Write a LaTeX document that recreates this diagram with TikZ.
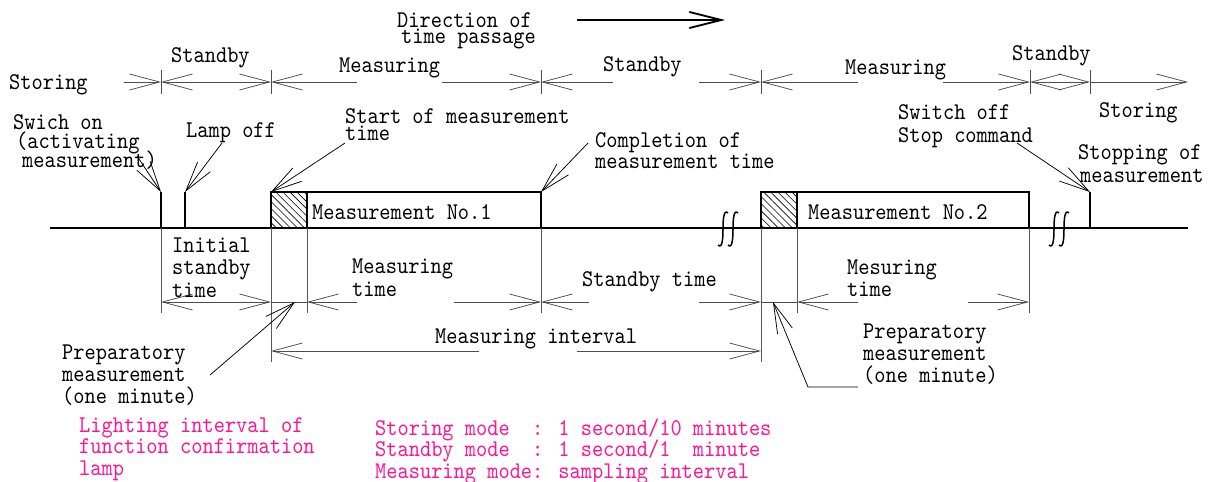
\documentclass[tikz,border=0pt]{standalone}
\usepackage{fontspec}
\usetikzlibrary{arrows.meta,patterns.meta}
\newfontfamily\mono{lmmono10-regular.otf}[FakeStretch=0.89]
\definecolor{labelpink}{RGB}{255,20,147}
% multi-line label: first argument is the line pitch in pt
\newcommand\mstack[2]{\vtop{\baselineskip=#1pt\lineskiplimit=-100pt\lineskip=0pt\relax#2}}
\newcommand\lnrow[1]{\hbox{#1}}
% break mark on the time axis
\newcommand\brkmark[1]{\draw[brk] ({#1+5},213) .. controls ({#1+1},209) and (#1,218) .. (#1,229) .. controls (#1,240) and ({#1-1},249) .. ({#1-5},245);}

\begin{document}
\begin{tikzpicture}[x=1pt,y=-1pt,
  txt/.style={anchor=base west,inner sep=0pt,font=\mono\fontsize{24}{24}\selectfont},
  note/.style={txt,text=labelpink},
  bb/.tip={Straight Barb[length=30pt,width=16pt]},
  dim/.style={draw=black!70,line width=0.75pt},
  ext/.style={draw=black!65,line width=0.75pt},
  lead/.style={draw=black,line width=0.75pt,-bb},
  sig/.style={draw=black,line width=1.8pt},
  brk/.style={draw=black,line width=1.5pt},
]
\useasboundingbox (0,0) rectangle (1211,482);

% ---- direction of time
\node[txt] (dir) at (397,27) {\mstack{16}{\lnrow{Direction of}\lnrow{\kern4pt time passage}}};
\coordinate (ta) at (577,20);
\coordinate (tb) at (725,20);
\draw[line width=1.8pt,-{Straight Barb[length=32pt,width=16pt]}] (ta) -- (tb);

% ---- operating modes
\node[txt] (s1) at (9,89) {Storing};
\node[txt] (sb1) at (171,62) {Standby};
\node[txt] (ms1) at (339,72) {Measuring};
\node[txt] (sb2) at (603,71) {Standby};
\node[txt] (ms2) at (845,74) {Measuring};
\node[txt] (sb3) at (1012,60) {Standby};
\node[txt] (s2) at (1099,117) {Storing};

\foreach \x in {161,271,541,761,1030,1090} \draw[dim] (\x,70) -- (\x,94);
\draw[dim,-bb] (124,82) -- (161,82);
\draw[dim,bb-bb] (161,82) -- (271,82);
\draw[dim,bb-] (271,82) -- (357,82);
\draw[dim,-bb] (442,82) -- (541,82);
\draw[dim,bb-] (541,82) -- (613,82);
\draw[dim,-bb] (699,82) -- (761,82);
\draw[dim,bb-] (761,82) -- (858,82);
\draw[dim,-bb] (943,82) -- (1030,82);
\draw[dim,bb-bb] (1030,82) -- (1090,82);
\draw[dim,-bb] (1090,82) -- (1188,82);

% ---- signal
\coordinate (on) at (161,192);
\coordinate (off) at (185,192);
\coordinate (m1s) at (271,192);
\coordinate (m1e) at (541,192);
\coordinate (stop) at (1090,192);

\fill[pattern={Lines[angle=-45,distance=5pt,line width=0.6pt]}] (271,192) rectangle (307,228);
\fill[pattern={Lines[angle=-45,distance=5pt,line width=0.6pt]}] (761,192) rectangle (797,228);
\draw[sig] (50,228) -- (1188,228);
\draw[sig] (161,228) -- (on);
\draw[sig] (185,228) -- (off);
\draw[sig] (271,192) rectangle (541,228);
\draw[sig] (307,192) -- (307,228);
\draw[sig] (761,192) rectangle (1029,228);
\draw[sig] (797,192) -- (797,228);
\draw[sig] (1090,228) -- (stop);
\brkmark{723}
\brkmark{733}
\brkmark{1054}
\brkmark{1064}
\node[txt] (no1) at (312,219) {Measurement No.1};
\node[txt] (no2) at (808,219) {Measurement No.2};

% ---- event labels
\node[txt] (swon) at (13,129) {\mstack{19}{\lnrow{Swich on}\lnrow{\kern3pt(activating}\lnrow{\kern9pt measurement)}}};
\node[txt] (lamp) at (186,137) {Lamp off};
\node[txt] (start) at (345,123) {\mstack{17}{\lnrow{Start of measurement}\lnrow{time}}};
\node[txt] (compl) at (595,147) {\mstack{21}{\lnrow{Completion of}\lnrow{measurement time}}};
\node[txt] (swoff) at (898,119) {\mstack{23}{\lnrow{Switch off}\lnrow{Stop command}}};
\node[txt] (stopm) at (1078,159) {\mstack{23}{\lnrow{Stopping of}\lnrow{\kern2pt measurement}}};

\coordinate (swon-l) at (137,156);
\coordinate (lamp-l) at (222,143);
\coordinate (start-l) at (345,143);
\coordinate (compl-l) at (588,143);
\coordinate (swoff-l) at (1017,143);
\draw[lead] (swon-l) -- (on);
\draw[lead] (lamp-l) -- (off);
\draw[lead] (start-l) -- (m1s);
\draw[lead] (compl-l) -- (m1e);
\draw[lead] (swoff-l) -- (stop);

% ---- durations
\foreach \x/\b in {161/313,271/362,307/313,541/313,761/362,797/313,1029/313}
  \draw[ext] (\x,228) -- (\x,\b);

\draw[dim,bb-bb] (161,302) -- (271,302);
\draw[dim] (271,302) -- (307,302);
\draw[dim,bb-] (307,302) -- (357,302);
\draw[dim,-bb] (454,302) -- (541,302);
\draw[dim,bb-] (541,302) -- (589,302);
\draw[dim,-bb] (699,302) -- (761,302);
\draw[dim] (761,302) -- (797,302);
\draw[dim,bb-] (797,302) -- (858,302);
\draw[dim,-bb] (968,302) -- (1029,302);
\draw[dim,bb-] (271,351) -- (479,351);
\draw[dim,-bb] (577,351) -- (761,351);

\node[txt] (init) at (172,252) {\mstack{22.5}{\lnrow{Initial}\lnrow{standby}\lnrow{time}}};
\node[txt] (mt1) at (352,273) {\mstack{23}{\lnrow{Measuring}\lnrow{time}}};
\node[txt] (st) at (582,286) {Standby time};
\node[txt] (mt2) at (847,274) {\mstack{22}{\lnrow{Mesuring}\lnrow{time}}};
\node[txt] (mi) at (435,343) {Measuring interval};

\node[txt] (prep1) at (62,359) {\mstack{22}{\lnrow{Preparatory}\lnrow{measurement}\lnrow{(one minute)}}};
\node[txt] (prep2) at (863,338) {\mstack{22}{\lnrow{Preparatory}\lnrow{measurement}\lnrow{(one minute)}}};
\coordinate (p1) at (295,302);
\coordinate (p1-l) at (210,375);
\coordinate (p2) at (773,302);
\coordinate (p2-k) at (808,387);
\coordinate (p2-l) at (858,387);
\draw[lead] (p1-l) -- (p1);
\draw[lead] (p2-l) -- (p2-k) -- (p2);

% ---- notes
\node[note] (lampint) at (79,432) {\mstack{21.5}{\lnrow{Lighting interval of}\lnrow{function confirmation}\lnrow{lamp}}};
\node[note] (modes) at (375,435) {\mstack{21.5}{\lnrow{Storing mode~~: 1 second/10 minutes}\lnrow{Standby mode~~: 1 second/1~~minute}\lnrow{Measuring mode: sampling interval}}};
\end{tikzpicture}
\end{document}
